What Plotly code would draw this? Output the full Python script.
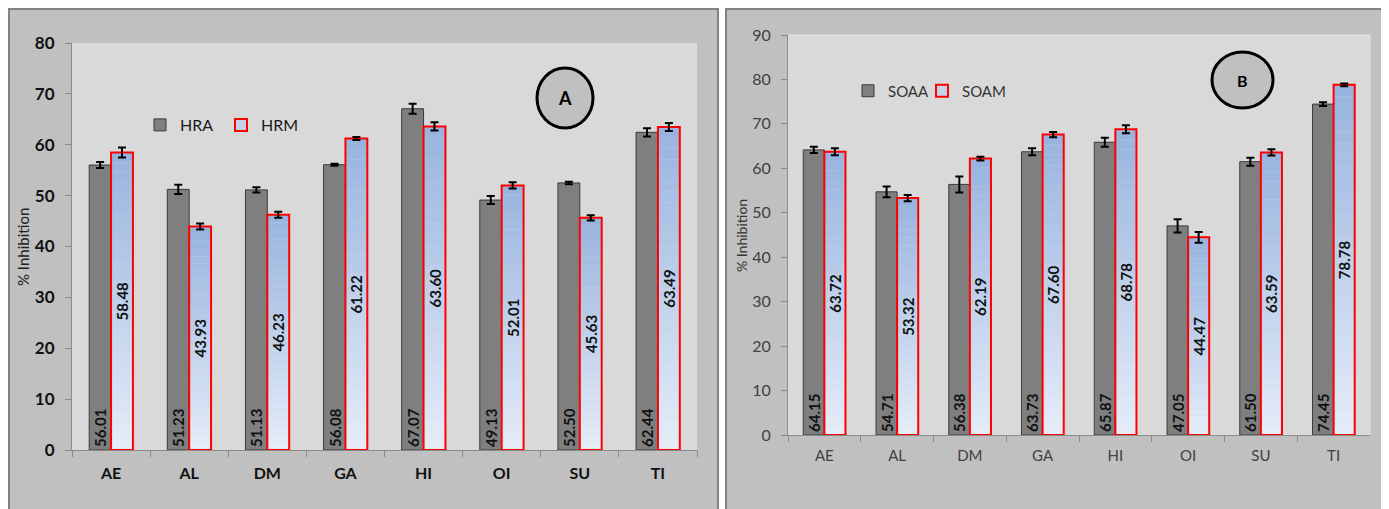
import plotly.graph_objects as go

# page body has an 8px margin: figure occupies screen x 8..1389, y 8..509
OFF = 8
W, H = 1389 - OFF, 509 - OFF

categories = ["AE", "AL", "DM", "GA", "HI", "OI", "SU", "TI"]

# Panel A
hra = [56.01, 51.23, 51.13, 56.08, 67.07, 49.13, 52.50, 62.44]
hra_err = [0.6, 0.9, 0.5, 0.2, 1.0, 0.8, 0.25, 0.8]
hrm = [58.48, 43.93, 46.23, 61.22, 63.60, 52.01, 45.63, 63.49]
hrm_err = [1.0, 0.6, 0.6, 0.3, 0.8, 0.6, 0.5, 0.8]

# Panel B
soaa = [64.15, 54.71, 56.38, 63.73, 65.87, 47.05, 61.50, 74.45]
soaa_err = [0.7, 1.2, 1.8, 0.8, 1.0, 1.5, 0.9, 0.4]
soam = [63.72, 53.32, 62.19, 67.60, 68.78, 44.47, 63.59, 78.78]
soam_err = [0.8, 0.7, 0.4, 0.6, 0.9, 1.2, 0.7, 0.3]

N_SEG = 30
TOP = (152, 180, 222)
BOT = (228, 236, 248)


def seg_color(k):
    t = k / (N_SEG - 1)
    c = [round(BOT[i] + (TOP[i] - BOT[i]) * t) for i in range(3)]
    return f"rgb({c[0]},{c[1]},{c[2]})"


def px_x(x):
    return (x - OFF) / W


def px_y(y):
    return 1 - (y - OFF) / H


fig = go.Figure()


def add_panel(xa, ya, gray_vals, gray_err, blue_vals, blue_err, names, legends, bw, fsize):
    fig.add_trace(go.Bar(
        x=categories, y=gray_vals, xaxis=xa, yaxis=ya, name=names[0], legend=legends[0],
        offset=-bw, width=bw,
        marker=dict(color="#7f7f7f", line=dict(color="#3a3a3a", width=1)),
        text=[f"{v:.2f}" for v in gray_vals], textposition="inside",
        insidetextanchor="start", textangle=-90, constraintext="none",
        textfont=dict(family="Lato", size=fsize, color="#111111", weight="bold"),
        error_y=dict(type="data", array=gray_err, color="black", thickness=2, width=4),
        hoverinfo="skip",
    ))
    for k in range(N_SEG):
        fig.add_trace(go.Bar(
            x=categories, y=[v / N_SEG for v in blue_vals],
            base=[v * k / N_SEG for v in blue_vals],
            xaxis=xa, yaxis=ya, offset=0, width=bw, showlegend=False,
            marker=dict(color=seg_color(k), line=dict(width=0)),
            hoverinfo="skip",
        ))
    fig.add_trace(go.Bar(
        x=categories, y=blue_vals, xaxis=xa, yaxis=ya, showlegend=False,
        offset=0, width=bw,
        marker=dict(color="rgba(0,0,0,0)", line=dict(color="#ff0000", width=2)),
        text=[f"{v:.2f}" for v in blue_vals], textposition="inside",
        insidetextanchor="middle", textangle=-90, constraintext="none",
        insidetextfont=dict(family="Lato", size=fsize, color="#111111", weight="bold"),
        error_y=dict(type="data", array=blue_err, color="black", thickness=2, width=4),
        hoverinfo="skip",
    ))
    fig.add_trace(go.Bar(
        x=[None], y=[None], xaxis=xa, yaxis=ya, name=names[1], legend=legends[1],
        marker=dict(color="#c3d3ec", line=dict(color="#ff0000", width=2)),
    ))


add_panel("x", "y", hra, hra_err, hrm, hrm_err, ["HRA", "HRM"], ["legend", "legend2"], 0.28, 15)
add_panel("x2", "y2", soaa, soaa_err, soam, soam_err, ["SOAA", "SOAM"], ["legend3", "legend4"], 0.29, 15)

shapes = []
# outer frames
for x0, x1 in [(9, 718), (726, 1386)]:
    shapes.append(dict(type="rect", xref="paper", yref="paper", layer="below",
                       x0=px_x(x0), x1=px_x(x1), y0=px_y(9), y1=px_y(520),
                       fillcolor="#c0c0c0", line=dict(color="#828282", width=2)))
# plot-area backgrounds
shapes.append(dict(type="rect", xref="paper", yref="paper", layer="below",
                   x0=px_x(72), x1=px_x(697), y0=px_y(450), y1=px_y(43),
                   fillcolor="#d9d9d9", line=dict(width=0)))
shapes.append(dict(type="rect", xref="paper", yref="paper", layer="below",
                   x0=px_x(788), x1=px_x(1370), y0=px_y(435), y1=px_y(35),
                   fillcolor="#d9d9d9", line=dict(color="#e2e2e2", width=1)))
# circled labels
shapes.append(dict(type="circle", xref="paper", yref="paper",
                   x0=px_x(537), x1=px_x(593), y0=px_y(128), y1=px_y(68),
                   fillcolor="#c0c0c0", line=dict(color="black", width=3)))
shapes.append(dict(type="circle", xref="paper", yref="paper",
                   x0=px_x(1212), x1=px_x(1273), y0=px_y(108), y1=px_y(52),
                   fillcolor="#c0c0c0", line=dict(color="black", width=3)))

annotations = [
    dict(text="<b>A</b>", x=px_x(565), y=px_y(98), xref="paper", yref="paper",
         xanchor="center", yanchor="middle",
         showarrow=False, font=dict(family="Lato", size=18, color="black")),
    dict(text="<b>B</b>", x=px_x(1242.5), y=px_y(80), xref="paper", yref="paper",
         xanchor="center", yanchor="middle",
         showarrow=False, font=dict(family="Lato", size=16, color="black")),
    dict(text="% Inhibition", x=px_x(23), y=px_y(247), xref="paper", yref="paper",
         xanchor="center", yanchor="middle",
         showarrow=False, textangle=-90, font=dict(family="Lato", size=15, color="#222222")),
    dict(text="% Inhibition", x=px_x(741), y=px_y(236), xref="paper", yref="paper",
         xanchor="center", yanchor="middle",
         showarrow=False, textangle=-90, font=dict(family="Lato", size=14, color="#333333")),
]

axis_common = dict(showgrid=False, zeroline=False, showline=True, linecolor="#8a8a8a",
                   linewidth=1, ticks="outside", tickcolor="#8a8a8a", ticklen=6,
                   automargin=False)


def legend_at(xpx, ypx, size, color):
    return dict(x=px_x(xpx), y=px_y(ypx), xanchor="left", yanchor="middle",
                orientation="v", bgcolor="rgba(0,0,0,0)", itemwidth=30,
                font=dict(family="Lato", size=size, color=color))


fig.update_layout(
    width=W, height=H, margin=dict(l=0, r=0, t=0, b=0, autoexpand=False),
    paper_bgcolor="white", plot_bgcolor="rgba(0,0,0,0)",
    barmode="overlay", showlegend=True,
    shapes=shapes, annotations=annotations,
    xaxis=dict(domain=[px_x(72), px_x(697)], anchor="y", tickson="boundaries",
               tickfont=dict(family="Lato", size=16, color="#111111", weight="bold"),
               ticklabelstandoff=9, **axis_common),
    yaxis=dict(domain=[px_y(450), px_y(43)], anchor="x", range=[0, 80], dtick=10,
               tickfont=dict(family="Lato", size=17, color="#111111", weight="bold"),
               ticklabelstandoff=7, **axis_common),
    xaxis2=dict(domain=[px_x(788), px_x(1370)], anchor="y2", tickson="boundaries",
                tickfont=dict(family="Lato", size=15, color="#404040"),
                ticklabelstandoff=7, **axis_common),
    yaxis2=dict(domain=[px_y(435), px_y(35)], anchor="x2", range=[0, 90], dtick=10,
                tickfont=dict(family="Lato", size=16, color="#404040"),
                ticklabelstandoff=7, **axis_common),
    legend=legend_at(140, 125, 16, "#1a1a1a"),
    legend2=legend_at(221, 125, 16, "#1a1a1a"),
    legend3=legend_at(848, 91, 15, "#333333"),
    legend4=legend_at(922, 91, 15, "#333333"),
)

fig.write_html("out.html")
